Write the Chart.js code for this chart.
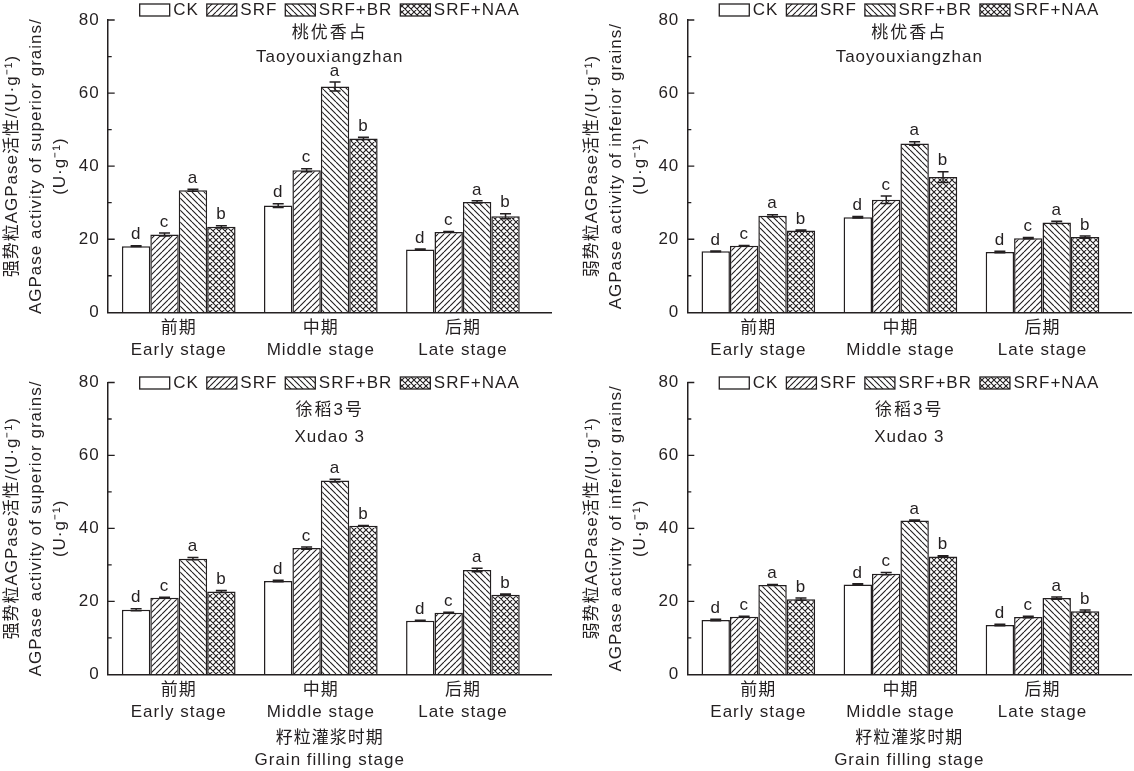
<!DOCTYPE html>
<html><head><meta charset="utf-8">
<script src="https://cdn.jsdelivr.net/npm/chart.js@4.4.1/dist/chart.umd.min.js"></script>
<style>
html,body{margin:0;padding:0;background:#fff;}
body{width:1134px;height:771px;position:relative;overflow:hidden;}
canvas{position:absolute;}
</style></head><body>
<canvas id="c0"></canvas><canvas id="c1"></canvas><canvas id="c2"></canvas><canvas id="c3"></canvas>
<script>
// ---------- data ----------
const stagesCN = ['前期', '中期', '后期'];
const stagesEN = ['Early stage', 'Middle stage', 'Late stage'];
const stagePos = [1, 2, 3];
const seriesNames = ['CK', 'SRF', 'SRF+BR', 'SRF+NAA'];
const seriesLetters = ['d', 'c', 'a', 'b'];
const yTickStep = 20;
const yMax = 80;

const cultivarCN = ['桃优香占', '徐稻3号'];
const cultivarEN = ['Taoyouxiangzhan', 'Xudao 3'];
const yTitleSuperior = ['强势粒AGPase活性/(U·g⁻¹)', 'AGPase activity of superior grains/', '(U·g⁻¹)'];
const yTitleInferior = ['弱势粒AGPase活性/(U·g⁻¹)', 'AGPase activity of inferior grains/', '(U·g⁻¹)'];
const xTitleText = ['籽粒灌浆时期', 'Grain filling stage'];

// rows: CK, SRF, SRF+BR, SRF+NAA ; columns: early, middle, late
const taoSuperiorValues = [[18.1, 29.2, 17.2], [21.3, 38.9, 22.0], [33.4, 61.8, 30.2], [23.4, 47.6, 26.3]];
const taoSuperiorErrors = [[0.1, 0.5, 0.1], [0.4, 0.4, 0.1], [0.3, 1.2, 0.3], [0.3, 0.3, 0.7]];
const taoInferiorValues = [[16.7, 26.0, 16.5], [18.2, 30.8, 20.3], [26.4, 46.2, 24.6], [22.4, 37.0, 20.6]];
const taoInferiorErrors = [[0.1, 0.2, 0.2], [0.1, 1.0, 0.2], [0.3, 0.5, 0.3], [0.1, 1.5, 0.3]];
const xuSuperiorValues = [[17.7, 25.6, 14.7], [21.0, 34.6, 16.9], [31.7, 53.1, 28.6], [22.7, 40.7, 21.8]];
const xuSuperiorErrors = [[0.3, 0.2, 0.1], [0.1, 0.3, 0.1], [0.3, 0.4, 0.5], [0.3, 0.1, 0.2]];
const xuInferiorValues = [[14.9, 24.6, 13.5], [15.8, 27.6, 15.7], [24.5, 42.2, 20.9], [20.6, 32.3, 17.3]];
const xuInferiorErrors = [[0.2, 0.2, 0.2], [0.1, 0.3, 0.2], [0.1, 0.1, 0.3], [0.3, 0.2, 0.3]];

// ---------- styling ----------
const ink = '#231f20';
const FONT = "'Liberation Sans', 'Noto Sans CJK SC', sans-serif";
const FS = 17;

function makePattern(kind) {
  const s = 6, c = document.createElement('canvas');
  c.width = s; c.height = s;
  const g = c.getContext('2d');
  g.fillStyle = '#fff'; g.fillRect(0, 0, s, s);
  if (kind === 'none') return g.createPattern(c, 'repeat');
  g.strokeStyle = ink; g.lineWidth = 1.1;
  g.beginPath();
  for (let k = -1; k <= 1; k++) {
    if (kind === 'fwd' || kind === 'cross') { g.moveTo(k * s, s); g.lineTo(k * s + s, 0); }
    if (kind === 'back' || kind === 'cross') { g.moveTo(k * s, 0); g.lineTo(k * s + s, s); }
  }
  g.stroke();
  return g.createPattern(c, 'repeat');
}
const fills = ['#ffffff', makePattern('fwd'), makePattern('back'), makePattern('cross')];

const panels = [
  { id: 'c0', cl: 0, ct: 0, cw: 567, ch: 362, al: 107.7, ar: 551.7, at: 20, ab: 312.3,
    values: taoSuperiorValues, errors: taoSuperiorErrors, cult: 0, yTitle: yTitleSuperior, xTitle: false, legDy: -10, titDy: [13, 37] },
  { id: 'c1', cl: 580, ct: 0, cw: 554, ch: 362, al: 687.3, ar: 1131.3, at: 20, ab: 312.3,
    values: taoInferiorValues, errors: taoInferiorErrors, cult: 0, yTitle: yTitleInferior, xTitle: false, legDy: -10, titDy: [13, 37] },
  { id: 'c2', cl: 0, ct: 362, cw: 567, ch: 409, al: 107.7, ar: 551.7, at: 382.5, ab: 674.3,
    values: xuSuperiorValues, errors: xuSuperiorErrors, cult: 1, yTitle: yTitleSuperior, xTitle: true, legDy: 0.5, titDy: [27.5, 54.5] },
  { id: 'c3', cl: 580, ct: 362, cw: 554, ch: 409, al: 687.3, ar: 1131.3, at: 382.5, ab: 674.3,
    values: xuInferiorValues, errors: xuInferiorErrors, cult: 1, yTitle: yTitleInferior, xTitle: true, legDy: 0.5, titDy: [27.5, 54.5] }
];

function makeDecor(p) {
  return {
    id: 'decor' + p.id,
    beforeDraw(chart) { chart.ctx.letterSpacing = '1px'; },
    afterDatasetsDraw(chart) {
      const ctx = chart.ctx, x = chart.scales.x, y = chart.scales.y, area = chart.chartArea;
      ctx.save();
      ctx.letterSpacing = '1px';
      ctx.strokeStyle = ink; ctx.fillStyle = ink; ctx.lineWidth = 1.3;
      // inward ticks (major + minor)
      const majors = y.ticks.map(t => t.value);
      ctx.beginPath();
      for (let k = 0; k < majors.length; k++) {
        const v = majors[k];
        if (v > y.min) { const py = y.getPixelForValue(v); ctx.moveTo(area.left, py); ctx.lineTo(area.left + 7, py); }
        if (k > 0) { const py = y.getPixelForValue((majors[k - 1] + v) / 2); ctx.moveTo(area.left, py); ctx.lineTo(area.left + 4, py); }
      }
      ctx.stroke();
      // error bars + significance letters
      ctx.font = FS + 'px ' + FONT;
      ctx.textAlign = 'center'; ctx.textBaseline = 'middle';
      p.values.forEach((vals, i) => {
        const meta = chart.getDatasetMeta(i);
        meta.data.forEach((bar, j) => {
          const v = vals[j], e = p.errors[i][j];
          const yt = y.getPixelForValue(v + e), yb = y.getPixelForValue(v - e);
          ctx.lineWidth = 1.5;
          ctx.beginPath();
          ctx.moveTo(bar.x, yb); ctx.lineTo(bar.x, yt);
          ctx.moveTo(bar.x - 5.5, yt); ctx.lineTo(bar.x + 5.5, yt);
          ctx.moveTo(bar.x - 5.5, yb); ctx.lineTo(bar.x + 5.5, yb);
          ctx.stroke();
          ctx.fillText(seriesLetters[i], bar.x, yt - 11);
        });
      });
      // legend
      const items = seriesNames.map((n, i) => ({ n, w: ctx.measureText(n).width, f: fills[i] }));
      const boxW = 30, boxH = 12, gapBT = 3.5, gapItem = 8;
      let total = items.reduce((s, it) => s + boxW + gapBT + it.w, 0) + gapItem * (items.length - 1);
      let lx = (area.left + area.right) / 2 - total / 2;
      const ly = area.top + p.legDy;
      ctx.textAlign = 'left';
      items.forEach(it => {
        ctx.fillStyle = it.f; ctx.fillRect(lx, ly - boxH / 2, boxW, boxH);
        ctx.lineWidth = 1.3; ctx.strokeStyle = ink; ctx.strokeRect(lx, ly - boxH / 2, boxW, boxH);
        ctx.fillStyle = ink; ctx.fillText(it.n, lx + boxW + gapBT, ly + 0.5);
        lx += boxW + gapBT + it.w + gapItem;
      });
      // cultivar title
      ctx.textAlign = 'center';
      const cx = (area.left + area.right) / 2;
      ctx.letterSpacing = '2px';
      ctx.fillText(cultivarCN[p.cult], cx, area.top + p.titDy[0]);
      ctx.letterSpacing = '1px';
      ctx.fillText(cultivarEN[p.cult], cx, area.top + p.titDy[1]);
      ctx.restore();
    }
  };
}

panels.forEach(p => {
  const cv = document.getElementById(p.id);
  cv.width = p.cw; cv.height = p.ch;
  cv.style.left = p.cl + 'px'; cv.style.top = p.ct + 'px';
  cv.style.width = p.cw + 'px'; cv.style.height = p.ch + 'px';
  const datasets = seriesNames.map((name, i) => ({
    label: name,
    data: stagePos.map((sx, j) => ({ x: sx, y: p.values[i][j] })),
    backgroundColor: fills[i],
    borderColor: ink,
    borderWidth: 1.5,
    borderSkipped: 'start',
    barPercentage: 1.0,
    categoryPercentage: 0.8
  }));
  new Chart(cv, {
    type: 'bar',
    data: { datasets },
    options: {
      responsive: false,
      animation: false,
      devicePixelRatio: 1,
      layout: { padding: { left: 0, right: (p.cl + p.cw) - p.ar, top: p.at - p.ct, bottom: 0 } },
      plugins: { legend: { display: false }, tooltip: { enabled: false } },
      scales: {
        x: {
          type: 'linear', min: 0.5, max: 3.625, offset: false,
          grid: { display: false, drawTicks: false },
          border: { display: true, color: ink, width: 1.5 },
          afterBuildTicks: s => { s.ticks = stagePos.map(v => ({ value: v })); },
          afterFit: s => { s.height = (p.ct + p.ch) - p.ab; },
          ticks: {
            autoSkip: false, maxRotation: 0, minRotation: 0, padding: 5, color: ink,
            font: { family: FONT, size: FS, lineHeight: '22px' },
            callback: v => { const i = stagePos.indexOf(v); return i < 0 ? '' : [stagesCN[i], stagesEN[i]]; }
          },
          title: { display: p.xTitle, text: xTitleText, color: ink, padding: { top: 0, bottom: 0 },
                   font: { family: FONT, size: FS, lineHeight: '22px' } }
        },
        y: {
          min: 0, max: yMax,
          grid: { display: false, drawTicks: false },
          border: { display: true, color: ink, width: 1.5 },
          afterFit: s => { s.width = p.al - p.cl; },
          ticks: { stepSize: yTickStep, padding: 8, color: ink, font: { family: FONT, size: FS } },
          title: { display: true, text: p.yTitle, color: ink, padding: { top: 0, bottom: 0 },
                   font: { family: FONT, size: FS, lineHeight: '24px' } }
        }
      }
    },
    plugins: [makeDecor(p)]
  });
});
</script>
</body></html>
